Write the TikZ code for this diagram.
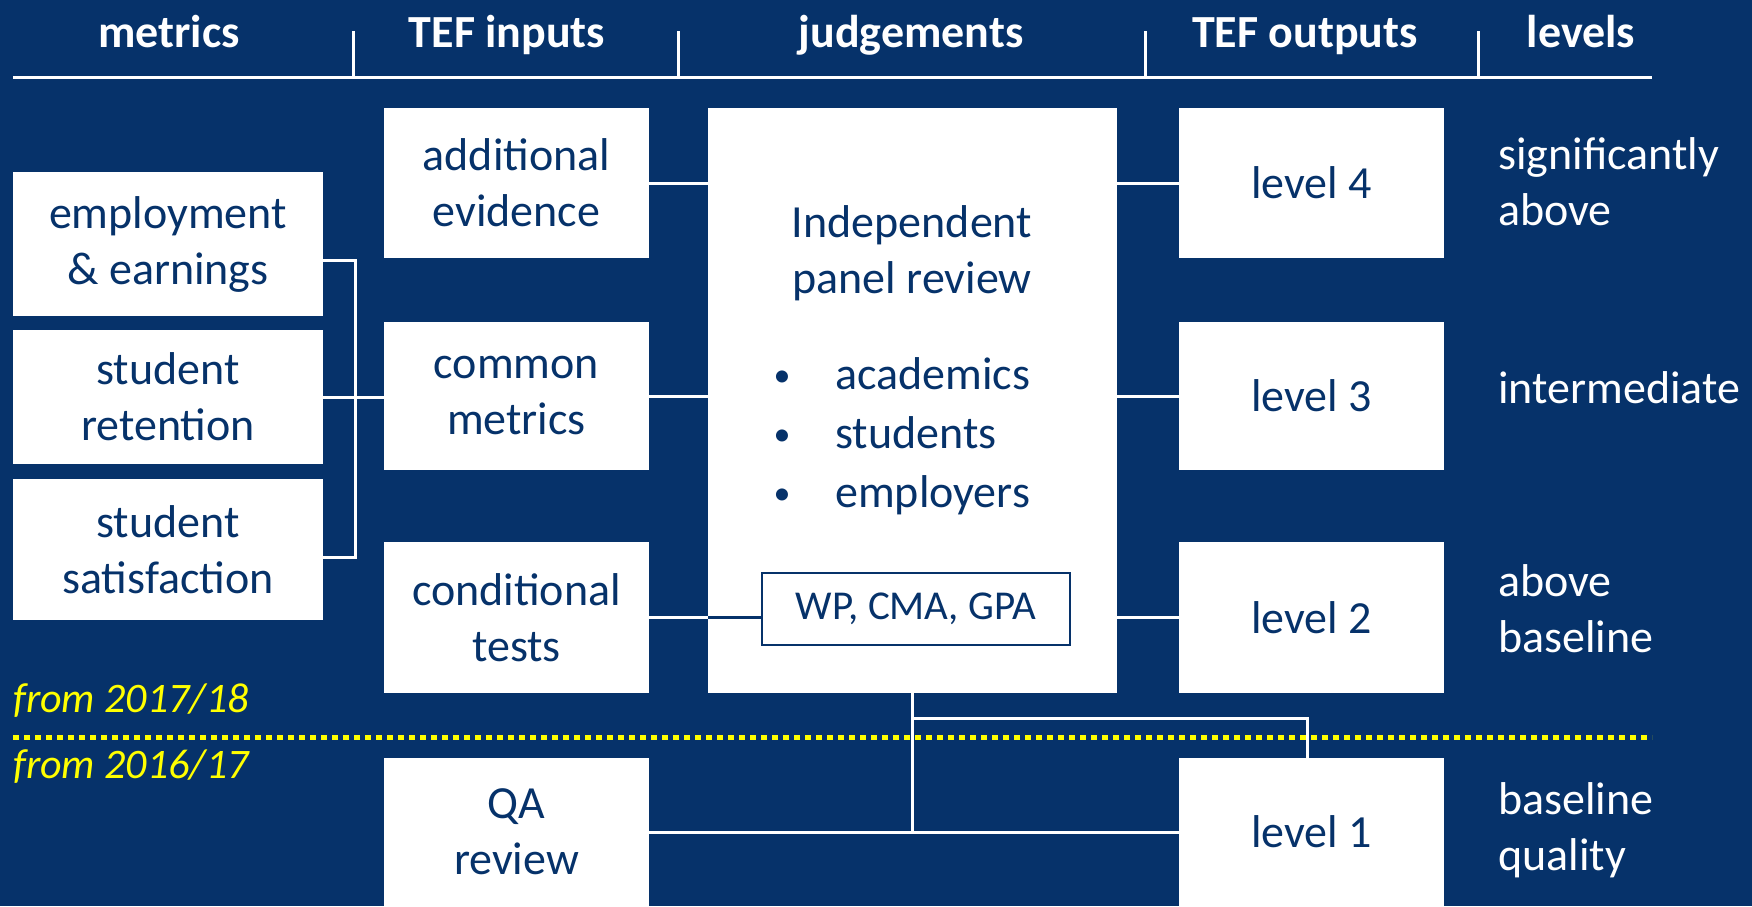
\documentclass[tikz,border=0pt]{standalone}
\usepackage{fontspec}
\setmainfont{Carlito}
\definecolor{bgnavy}{RGB}{6,50,106}
\definecolor{dotyellow}{RGB}{255,255,0}
\begin{document}
\begin{tikzpicture}[x=1pt,y=-1pt,
  box/.style={fill=white, text=bgnavy, align=center, inner sep=0pt, outer sep=0pt,
    font=\fontsize{46}{56}\selectfont},
  mbox/.style={box, minimum width=310pt},
  ibox/.style={box, minimum width=265pt},
  wpbox/.style={draw=bgnavy, line width=2.5pt, fill=white, text=bgnavy, inner sep=0pt, outer sep=0pt,
    minimum width=308pt, minimum height=72pt, font=\fontsize{41}{48}\selectfont},
  hdr/.style={text=white, inner sep=0pt, anchor=base, font=\fontsize{46}{56}\selectfont\bfseries},
  jtext/.style={text=bgnavy, inner sep=0pt, font=\fontsize{46}{56}\selectfont},
  bul/.style={text=bgnavy, inner sep=0pt, font=\fontsize{34}{40}\selectfont},
  lvl/.style={text=white, inner sep=0pt, anchor=west, align=left, font=\fontsize{46}{56}\selectfont},
  yr/.style={text=dotyellow, inner sep=0pt, anchor=base west, font=\fontsize{42}{50}\selectfont\itshape},
  wline/.style={draw=white, line width=3pt},
  nline/.style={draw=bgnavy, line width=3pt},
  hline/.style={draw=white, line width=3pt},
]
\fill[bgnavy] (0,0) rectangle (1752,906);
\useasboundingbox (0,0) rectangle (1752,906);

% header
\node[hdr] (hm) at (169,47) {metrics};
\node[hdr] (hi) at (507,47) {TEF inputs};
\node[hdr] (hj) at (911,47) {judgements};
\node[hdr] (ho) at (1305,47) {TEF outputs};
\node[hdr] (hl) at (1581,47) {levels};
\draw[hline] (13,77) -- (1652,77);
\draw[hline] (353,31) -- (353,77);
\draw[hline] (678,31) -- (678,77);
\draw[hline] (1145,31) -- (1145,77);
\draw[hline] (1478,31) -- (1478,77);

% metrics
\node[mbox, minimum height=144pt] (emp) at (168,244) {employment\\\& earnings};
\node[mbox, minimum height=134pt] (ret) at (168,397) {student\\retention};
\node[mbox, minimum height=141pt] (sat) at (168,549.5) {student\\satisfaction};

% inputs
\node[ibox, minimum height=150pt] (add) at (516.5,183) {additional\\evidence};
\node[ibox, minimum height=148pt] (cm) at (516.5,396) {common\\metrics};
\node[ibox, minimum height=151pt] (cond) at (516.5,617.5) {conditional\\tests};
\node[ibox, minimum height=148pt] (qa) at (516.5,832) {QA\\review};

% judgements
\node[box, minimum width=409pt, minimum height=585pt] (judg) at (912.5,400.5) {};
\node[jtext, anchor=base] (indep) at (912,237) {Independent};
\node[jtext, anchor=base] (panel) at (912,293) {panel review};
\node[bul, anchor=base] (bu1) at (782,386) {•};
\node[bul, anchor=base] (bu2) at (782,445) {•};
\node[bul, anchor=base] (bu3) at (782,504) {•};
\node[jtext, anchor=base west] (acad) at (835,389) {academics};
\node[jtext, anchor=base west] (stud) at (835,448) {students};
\node[jtext, anchor=base west] (empl) at (835,507) {employers};
\node[wpbox] (wp) at (916,609) {WP, CMA, GPA};

% outputs
\node[ibox, minimum height=150pt] (l4) at (1311.5,183) {level 4};
\node[ibox, minimum height=148pt] (l3) at (1311.5,396) {level 3};
\node[ibox, minimum height=151pt] (l2) at (1311.5,617.5) {level 2};
\node[ibox, minimum height=148pt] (l1) at (1311.5,832) {level 1};

% levels
\node[lvl] (t4) at (1498,182) {significantly\\above};
\node[lvl] (t3) at (1498,388) {intermediate};
\node[lvl] (t2) at (1498,609) {above\\baseline};
\node[lvl] (t1) at (1498,830) {baseline\\quality};

% years
\node[yr] (y1) at (13,712) {from 2017/18};
\node[yr] (y2) at (13,778) {from 2016/17};
\draw[draw=dotyellow, line width=5pt, dash pattern=on 6pt off 5pt] (13,737) -- (1652,737);

% connectors
\draw[wline] ([yshift=-16pt]emp.east) -| ([xshift=32pt,yshift=-8pt]sat.east) -- ([yshift=-8pt]sat.east);
\draw[wline] (ret.east) -- (ret.east -| cm.west);
\draw[wline] (add.east) -- (add.east -| judg.west);
\draw[wline] (cm.east) -- (cm.east -| judg.west);
\draw[wline] (cond.east) -- (cond.east -| judg.west);
\draw[nline] (cond.east -| judg.west) -- (cond.east -| wp.west);
\draw[wline] (judg.east |- l4.west) -- (l4.west);
\draw[wline] (judg.east |- l3.west) -- (l3.west);
\draw[wline] (judg.east |- l2.west) -- (l2.west);
\draw[wline] (qa.east) -- (l1.west);
\draw[wline] (judg.south) -- (judg.south |- qa.east);
\coordinate (br) at (1307,718);
\draw[wline] (judg.south |- br) -- (br) -- (br |- l1.north);
\end{tikzpicture}
\end{document}
